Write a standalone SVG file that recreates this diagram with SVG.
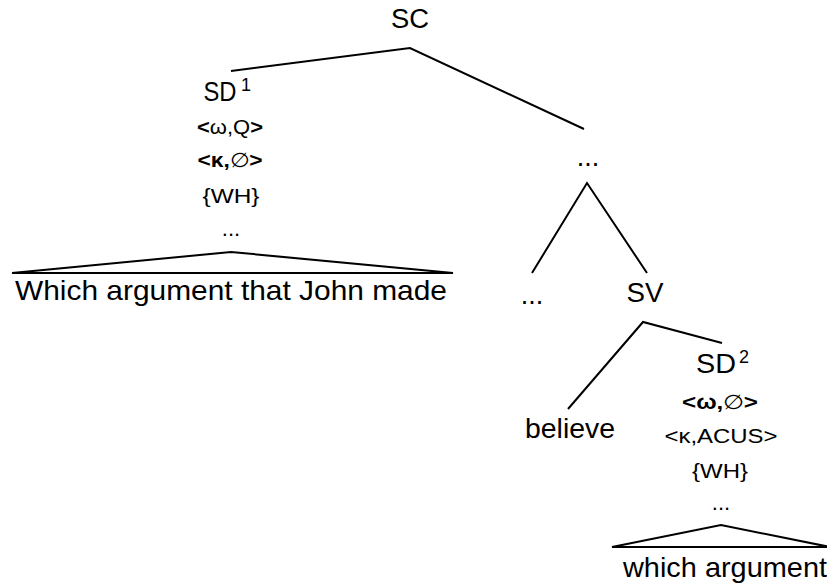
<svg xmlns="http://www.w3.org/2000/svg" width="827" height="584" viewBox="0 0 827 584">
<style>
text{font-family:"Liberation Sans",Arial,sans-serif;fill:#000;text-anchor:middle}
.cat{font-size:27px}
.sup{font-size:18px;text-anchor:start}
.feat{font-size:20px}
.big{font-size:28px}
.dots{font-size:22px}
.b{font-weight:bold}
.edge{stroke:#000;stroke-width:2;fill:none}
</style>
<rect width="827" height="584" fill="#fff"/>
<g id="connectors">
<polyline class="edge" points="231,71 410,48 584,129"/>
<polyline class="edge" points="532,273 587,183 647,273"/>
<polyline class="edge" points="568,409 643,322 722,343"/>
<path class="edge" d="M12,273 L231,252 L453,273 Z"/>
<path class="edge" d="M612,547 L721,525 L830,547 Z"/>
</g>
<g id="SC"><text class="cat" x="410" y="28" textLength="38" lengthAdjust="spacingAndGlyphs">SC</text></g>
<g id="SD1">
<text class="cat" x="220" y="101" textLength="33" lengthAdjust="spacingAndGlyphs">SD</text>
<text class="sup" x="241" y="91">1</text>
<text class="feat" x="230" y="134" textLength="66" lengthAdjust="spacingAndGlyphs"><tspan class="b">&lt;</tspan>ω,Q<tspan class="b">&gt;</tspan></text>
<text class="feat" x="230" y="167" textLength="65" lengthAdjust="spacingAndGlyphs"><tspan class="b">&lt;κ,</tspan>∅<tspan class="b">&gt;</tspan></text>
<text class="feat" x="231" y="203" textLength="57" lengthAdjust="spacingAndGlyphs">{WH}</text>
<text class="dots" x="231" y="236">...</text>
</g>
<g id="phrase1"><text class="big" x="231" y="300" textLength="432" lengthAdjust="spacingAndGlyphs">Which argument that John made</text></g>
<g id="mid"><text class="cat" x="588" y="166">...</text></g>
<g id="left-dots"><text class="cat" x="532" y="304">...</text></g>
<g id="SV"><text class="cat" x="645" y="302" textLength="37" lengthAdjust="spacingAndGlyphs">SV</text></g>
<g id="believe"><text class="big" x="570" y="438" textLength="90" lengthAdjust="spacingAndGlyphs">believe</text></g>
<g id="SD2">
<text class="cat" x="716" y="373" textLength="40" lengthAdjust="spacingAndGlyphs">SD</text>
<text class="sup" x="739" y="363">2</text>
<text class="feat" x="720" y="409" textLength="76" lengthAdjust="spacingAndGlyphs"><tspan class="b">&lt;ω,</tspan>∅<tspan class="b">&gt;</tspan></text>
<text class="feat" x="721" y="443" textLength="113" lengthAdjust="spacingAndGlyphs">&lt;κ,ACUS&gt;</text>
<text class="feat" x="720" y="478" textLength="56" lengthAdjust="spacingAndGlyphs">{WH}</text>
<text class="dots" x="721" y="510">...</text>
</g>
<g id="phrase2"><text class="big" x="725" y="577" textLength="204" lengthAdjust="spacingAndGlyphs">which argument</text></g>
</svg>
